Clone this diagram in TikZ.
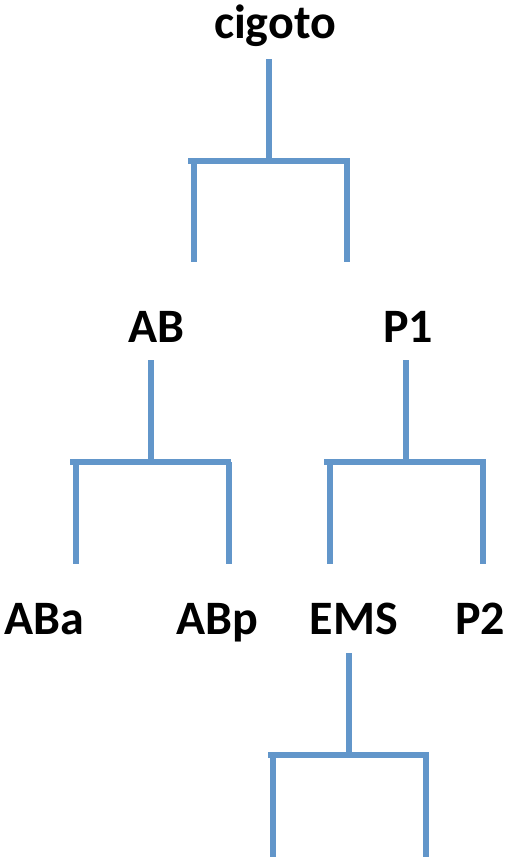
\documentclass[tikz,border=0pt]{standalone}
\usepackage{fontspec}
\setmainfont{Carlito}
\definecolor{branch}{RGB}{98,150,202}
\tikzset{
  lbl/.style={inner sep=0pt, anchor=base, font=\fontsize{48}{52}\selectfont\bfseries},
  br/.style={draw=branch, line width=5.5pt},
}
\begin{document}
\begin{tikzpicture}[x=1pt,y=-1pt]
\useasboundingbox (0,0) rectangle (506,863);
% labels
\node[lbl] (cig) at (275,38) {cigoto};
\node[lbl] (ab) at (156,342) {AB};
\node[lbl] (p1) at (408,342) {P1};
\node[lbl] (aba) at (44,634) {ABa};
\node[lbl] (abp) at (217,634) {ABp};
\node[lbl] (ems) at (354,634) {EMS};
\node[lbl] (p2) at (480,634) {P2};
% tree 1
\coordinate (t1s) at (269,59);
\coordinate (t1j) at (269,161);
\coordinate (t1a) at (188,161);
\coordinate (t1b) at (350,161);
\coordinate (t1l) at (194,161);
\coordinate (t1le) at (194,262);
\coordinate (t1r) at (347,161);
\coordinate (t1re) at (347,262);
\draw[br] (t1s) -- (t1j);
\draw[br] (t1a) -- (t1b);
\draw[br] (t1l) -- (t1le);
\draw[br] (t1r) -- (t1re);
% tree 2
\coordinate (t2s) at (151,360);
\coordinate (t2j) at (151,462);
\coordinate (t2a) at (70,462);
\coordinate (t2b) at (231,462);
\coordinate (t2l) at (76,462);
\coordinate (t2le) at (76,564);
\coordinate (t2r) at (229,462);
\coordinate (t2re) at (229,564);
\draw[br] (t2s) -- (t2j);
\draw[br] (t2a) -- (t2b);
\draw[br] (t2l) -- (t2le);
\draw[br] (t2r) -- (t2re);
% tree 3
\coordinate (t3s) at (406,360);
\coordinate (t3j) at (406,462);
\coordinate (t3a) at (324,462);
\coordinate (t3b) at (486,462);
\coordinate (t3l) at (330,462);
\coordinate (t3le) at (330,564);
\coordinate (t3r) at (483,462);
\coordinate (t3re) at (483,564);
\draw[br] (t3s) -- (t3j);
\draw[br] (t3a) -- (t3b);
\draw[br] (t3l) -- (t3le);
\draw[br] (t3r) -- (t3re);
% tree 4
\coordinate (t4s) at (349,653);
\coordinate (t4j) at (349,755);
\coordinate (t4a) at (268,755);
\coordinate (t4b) at (429,755);
\coordinate (t4l) at (273,755);
\coordinate (t4le) at (273,857);
\coordinate (t4r) at (426,755);
\coordinate (t4re) at (426,857);
\draw[br] (t4s) -- (t4j);
\draw[br] (t4a) -- (t4b);
\draw[br] (t4l) -- (t4le);
\draw[br] (t4r) -- (t4re);
\end{tikzpicture}
\end{document}
